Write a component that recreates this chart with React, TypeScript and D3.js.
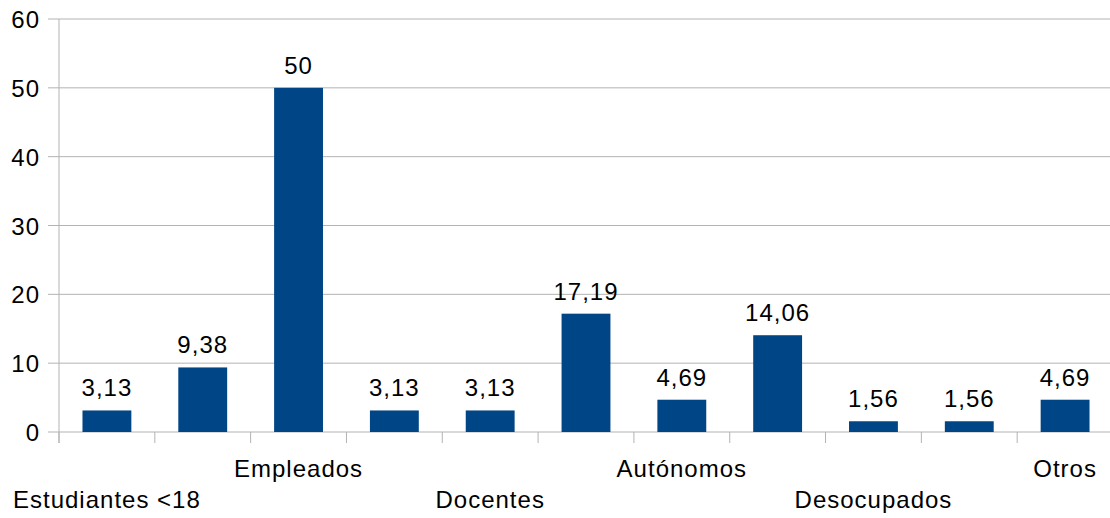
// @ts-nocheck
import React, { useEffect, useRef } from 'react';
import * as d3 from 'd3';

// only every second category label is visible in the original chart
const categories = ["Estudiantes <18", "", "Empleados", "", "Docentes", "", "Autónomos", "", "Desocupados", "", "Otros"];
const values = [3.13, 9.38, 50, 3.13, 3.13, 17.19, 4.69, 14.06, 1.56, 1.56, 4.69];
const yTicks = [0, 10, 20, 30, 40, 50, 60];

const W = 1110, H = 518;
const FONT = '"Liberation Sans", Arial, sans-serif';

export default function App() {
    const ref = useRef(null);

    useEffect(() => {
        const svg = d3.select(ref.current);
        svg.selectAll('*').remove();

        const margin = { top: 19, right: -3, bottom: 86, left: 59 };
        const x = d3.scaleBand()
            .domain(categories.map((_, i) => i))
            .range([margin.left, W - margin.right])
            .paddingInner(0.49)
            .paddingOuter(0.245);
        const step = x.step();
        const x0 = margin.left;
        const y = d3.scaleLinear().domain([0, 60]).range([H - margin.bottom, margin.top]);

        // gridlines
        svg.append('g')
            .selectAll('line')
            .data(yTicks)
            .join('line')
            .attr('x1', x0 - 11)
            .attr('x2', W - margin.right)
            .attr('y1', d => y(d))
            .attr('y2', d => y(d))
            .attr('stroke', '#b3b3b3')
            .attr('stroke-width', 1);

        // y axis line
        svg.append('line')
            .attr('x1', x0).attr('x2', x0)
            .attr('y1', y(60)).attr('y2', y(0) + 11)
            .attr('stroke', '#b3b3b3');

        // category ticks
        svg.append('g')
            .selectAll('line')
            .data(d3.range(categories.length + 1))
            .join('line')
            .attr('x1', i => x0 + i * step)
            .attr('x2', i => x0 + i * step)
            .attr('y1', y(0))
            .attr('y2', y(0) + 11)
            .attr('stroke', '#b3b3b3');

        // y tick labels
        svg.append('g')
            .selectAll('text')
            .data(yTicks)
            .join('text')
            .attr('x', 40)
            .attr('y', d => y(d) + 9)
            .attr('text-anchor', 'end')
            .attr('font-family', FONT)
            .attr('font-size', 24)
            .attr('letter-spacing', 1)
            .text(d => d);

        // bars
        svg.append('g')
            .selectAll('rect')
            .data(values)
            .join('rect')
            .attr('x', (d, i) => x(i))
            .attr('y', d => y(d))
            .attr('width', x.bandwidth())
            .attr('height', d => y(0) - y(d))
            .attr('fill', '#004586');

        // value labels
        svg.append('g')
            .selectAll('text')
            .data(values)
            .join('text')
            .attr('x', (d, i) => x(i) + x.bandwidth() / 2)
            .attr('y', d => y(d) - 14)
            .attr('text-anchor', 'middle')
            .attr('font-family', FONT)
            .attr('font-size', 24)
            .attr('letter-spacing', 1)
            .text(d => String(d).replace('.', ','));

        // category labels, staggered in two rows
        svg.append('g')
            .selectAll('text')
            .data(categories)
            .join('text')
            .attr('x', (d, i) => x(i) + x.bandwidth() / 2)
            .attr('y', (d, i) => (i % 4 === 0 ? 508 : 477))
            .attr('text-anchor', 'middle')
            .attr('font-family', FONT)
            .attr('font-size', 24)
            .attr('letter-spacing', 1)
            .text(d => d);
    }, []);

    return (
        <svg ref={ref} width={W} height={H}
            style={{ position: 'absolute', left: 0, top: 0, background: '#fff', display: 'block' }} />
    );
}
